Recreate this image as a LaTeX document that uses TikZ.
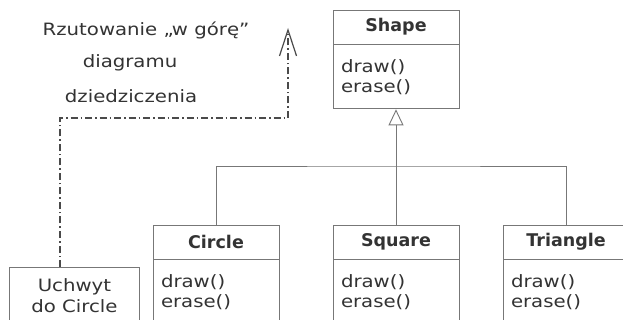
\documentclass[tikz,border=0pt]{standalone}
\usepackage{fontspec}
\setmainfont{DejaVu Sans}[FakeStretch=1.16]
\newfontfamily\titlefont{DejaVu Sans}[FakeStretch=1.0]
\usetikzlibrary{arrows.meta,positioning}
\definecolor{ink}{HTML}{333333}
\definecolor{rule}{HTML}{777777}
\definecolor{proj}{HTML}{4A4A4A}
\tikzset{
  titlebox/.style={draw=rule, line width=0.9pt, minimum width=126pt, minimum height=34pt,
    inner sep=0pt, font=\titlefont\bfseries\fontsize{17.5}{20}\selectfont, text=ink},
  opsbox/.style={draw=rule, line width=0.9pt, minimum width=126pt, minimum height=64pt,
    text width=110pt, align=left, inner xsep=8pt, inner ysep=0pt,
    font=\fontsize{17}{20}\selectfont, text=ink},
  notebox/.style={draw=rule, line width=0.9pt, minimum width=130pt, minimum height=56pt,
    align=center, inner sep=0pt, font=\fontsize{17}{21}\selectfont, text=ink},
  caption/.style={font=\fontsize{17}{20}\selectfont, text=ink, inner sep=0pt},
  link/.style={draw=rule, line width=0.9pt},
  inherit/.style={link, -{Triangle[open, length=16pt, width=15pt, line width=0.9pt]}},
  upcast/.style={draw=proj, line width=1.2pt, dash pattern=on 7pt off 3pt on 1.5pt off 3pt,
    -{Straight Barb[length=26pt, width=17pt, line width=1.2pt]}}
}
\begin{document}
\begin{tikzpicture}[x=1pt, y=-1pt]
  \useasboundingbox (0,0) rectangle (623,320);
  \clip (0,0) rectangle (623,320);
  \fill[white] (0,0) rectangle (623,320);

  % base class
  \node[titlebox] (shape) at (396,27) {Shape};
  \node[opsbox, below=0pt of shape] (shapeops) {draw()\\erase()};

  % derived classes
  \node[titlebox] (circle) at (216,242) {Circle};
  \node[opsbox, below=0pt of circle] (circleops) {draw()\\erase()};
  \node[titlebox] (square) at (396,242) {Square};
  \node[opsbox, below=0pt of square] (squareops) {draw()\\erase()};
  \node[titlebox] (triangle) at (566,242) {Triangle};
  \node[opsbox, below=0pt of triangle] (triangleops) {draw()\\erase()};

  % inheritance tree
  \coordinate (join) at (396,166);
  \draw[link] (circle.north) |- (join) -| (triangle.north);
  \draw[link] (square.north) -- (join);
  \draw[inherit] (join) -- (shapeops.south);

  % handle to a Circle object
  \node[notebox, anchor=north west] (handle) at (9,267) {Uchwyt\\do Circle};

  % upcast annotation
  \node[caption] (cap1) at (146,30) {Rzutowanie „w górę”};
  \node[caption] (cap2) at (130,63) {diagramu};
  \node[caption] (cap3) at (131,96) {dziedziczenia};
  \coordinate (bend) at (288,118);
  \coordinate (tip) at (288,28);
  \draw[upcast] ([xshift=51pt]handle.north west) |- (bend) -- (tip);
\end{tikzpicture}
\end{document}
